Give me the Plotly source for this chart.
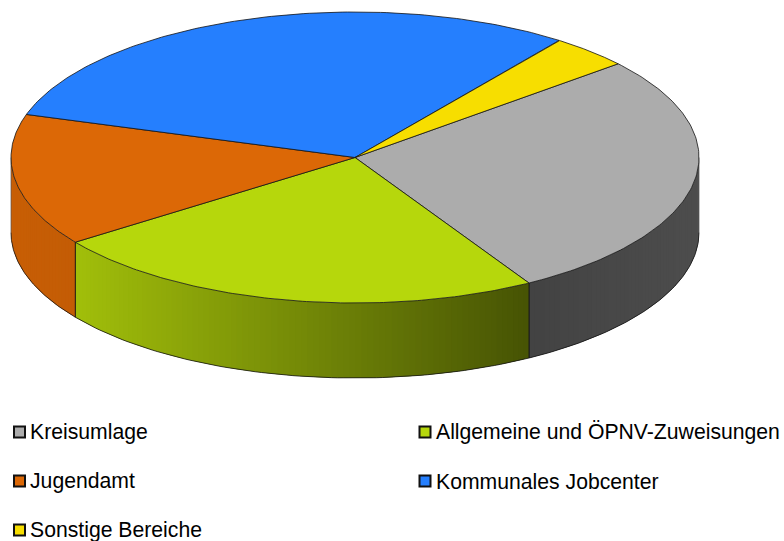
import numpy as np
import plotly.graph_objects as go

labels = ["Kreisumlage", "Allgemeine und ÖPNV-Zuweisungen", "Jugendamt", "Kommunales Jobcenter", "Sonstige Bereiche"]
values = [27.7, 23.55, 14.67, 30.33, 3.75]
colors = ["#acacac", "#b6d70c", "#dc6806", "#257ffe", "#f7de00"]
legend_col = [0, 1, 0, 1, 0]
legend_row = [0, 0, 1, 1, 2]

START = 49.9
CX, CY, RX, RY, DEPTH = 355, 157.5, 344, 145.5, 75
W, H = 784, 541
SHADE_X = [11, 75, 529, 699]
SHADE_F = [0.91, 0.89, 0.39, 0.45]


def ex(a):
    return CX + RX * np.sin(np.radians(a))


def ey(a):
    return CY - RY * np.cos(np.radians(a))


def rgb(hexstr, f=1.0):
    return tuple(int(int(hexstr[i:i + 2], 16) * f) for i in (1, 3, 5))


def css(c):
    return "rgb(%d,%d,%d)" % c


fig = go.Figure()
total = sum(values)
edges = START + np.concatenate([[0], np.cumsum(values)]) * 360 / total
OUT = "rgba(20,20,20,0.8)"

# side wall
for i, col in enumerate(colors):
    a0, a1 = edges[i], edges[i + 1]
    s0, s1 = max(a0, 90), min(a1, 270)
    if s1 <= s0:
        continue
    n = max(2, int((s1 - s0) / 1.0))
    steps = np.linspace(s0, s1, n + 1)
    d = steps[1] - steps[0]
    for p, q in zip(steps[:-1], steps[1:]):
        xm = ex((p + q) / 2)
        c = css(rgb(col, float(np.interp(xm, SHADE_X, SHADE_F))))
        arc = np.linspace(p, min(q + d, s1), 5)
        xs = list(ex(arc)) + list(ex(arc[::-1]))
        ys = list(ey(arc)) + list(ey(arc[::-1]) + DEPTH)
        fig.add_trace(go.Scatter(x=xs, y=ys, mode="lines", fill="toself", fillcolor=c,
                                 line=dict(width=0), hoverinfo="skip", showlegend=False))
    # outline of the wall
    arc = np.linspace(s0, s1, 80)
    fig.add_trace(go.Scatter(x=ex(arc), y=ey(arc) + DEPTH, mode="lines",
                             line=dict(color=OUT, width=1), hoverinfo="skip", showlegend=False))
    for e in (s0, s1):
        if e in (a0, a1):
            fig.add_trace(go.Scatter(x=[ex(e), ex(e)], y=[ey(e), ey(e) + DEPTH], mode="lines",
                                     line=dict(color=OUT, width=1), hoverinfo="skip", showlegend=False))

# silhouette edges of the wall
for e in (90, 270):
    fig.add_trace(go.Scatter(x=[ex(e), ex(e)], y=[ey(e), ey(e) + DEPTH], mode="lines",
                             line=dict(color="rgba(60,60,60,0.6)", width=1), hoverinfo="skip", showlegend=False))

# top face
for i, col in enumerate(colors):
    arc = np.linspace(edges[i], edges[i + 1], 120)
    xs = [CX] + list(ex(arc)) + [CX]
    ys = [CY] + list(ey(arc)) + [CY]
    fig.add_trace(go.Scatter(x=xs, y=ys, mode="lines", fill="toself", fillcolor=col,
                             line=dict(color=OUT, width=1), name=labels[i], hoverinfo="name", showlegend=False))

# legend
COL_X = [19.5, 425]
ROW_Y = [432, 481, 530]
for lab, col, cx_, ry_ in zip(labels, colors, legend_col, legend_row):
    fig.add_trace(go.Scatter(x=[COL_X[cx_]], y=[ROW_Y[ry_]], mode="markers",
                             marker=dict(symbol="square", size=11, color=col,
                                         line=dict(color="#111111", width=2)),
                             hoverinfo="skip", showlegend=False))
    fig.add_annotation(x=COL_X[cx_] + 8.5, y=ROW_Y[ry_], text=lab, showarrow=False, xanchor="left",
                       yanchor="middle", font=dict(family="Liberation Sans", size=21.2, color="#000000"))

fig.update_layout(
    width=W, height=H, margin=dict(l=0, r=0, t=0, b=0), paper_bgcolor="white", plot_bgcolor="white",
    xaxis=dict(range=[0, W], visible=False, fixedrange=True),
    yaxis=dict(range=[H, 0], visible=False, fixedrange=True),
    showlegend=False,
)
fig.write_html("out.html", config=dict(displayModeBar=False),
               post_script="document.body.style.margin='0';document.body.style.overflow='hidden';")
